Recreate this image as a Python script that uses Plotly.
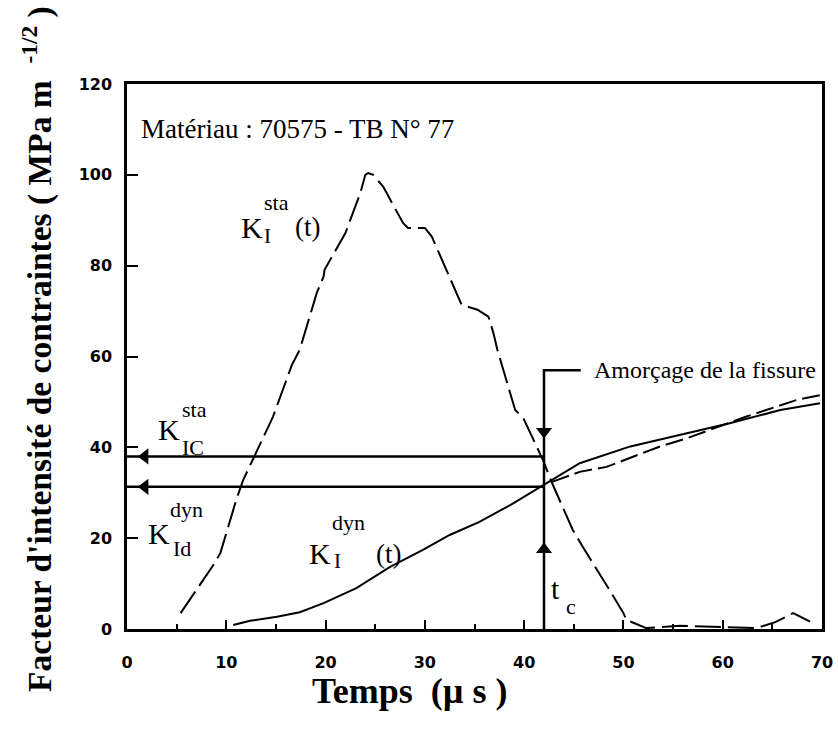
import plotly.graph_objects as go

# K_I^sta(t), dashed curve (time in µs, K in MPa m^1/2)
t_sta = [5.4, 8.7, 9.4, 11.0, 11.7, 14.1, 14.7, 16.6, 17.4, 19.1, 19.8, 19.9,
         22.0, 23.5, 24.0, 24.3, 24.8, 25.8, 27.8, 28.3, 30.0, 30.7, 33.2, 33.7,
         35.3, 36.4, 36.9, 37.3, 39.1, 39.9, 41.9, 42.8, 44.9, 45.9, 48.4, 49.3,
         50.0, 50.3, 52.3, 55.7, 59.0, 61.7, 63.4, 65.3, 67.1, 68.8]
k_sta = [3.5, 14.1, 16.7, 28.4, 32.8, 43.8, 46.7, 58.1, 61.5, 73.9, 77.6, 79.1,
         87.2, 96.0, 100.0, 100.4, 100.0, 97.4, 89.4, 88.3, 88.3, 86.4, 73.9, 71.4,
         70.3, 68.8, 65.2, 61.5, 48.2, 46.5, 37.2, 32.2, 21.8, 18.1, 9.3, 6.0,
         3.5, 2.0, 0.2, 0.7, 0.5, 0.4, 0.2, 1.5, 3.5, 1.6]

# K_I^dyn(t), solid curve
t_dyn = [10.7, 12.4, 15.1, 17.4, 19.8, 23.1, 26.5, 29.8, 32.5, 35.5, 38.6, 41.9,
         45.6, 50.7, 55.7, 60.7, 65.8, 69.8]
k_dyn = [0.9, 1.8, 2.7, 3.7, 5.7, 9.0, 13.7, 17.4, 20.7, 23.6, 27.3, 31.7,
         36.5, 40.2, 42.7, 45.3, 48.2, 49.7]

# second dyn trace (dashed) after initiation
t_dyn2 = [42.8, 45.6, 48.3, 50.7, 53.7, 56.4, 59.7, 62.4, 67.4, 69.8]
k_dyn2 = [32.4, 34.6, 35.7, 37.7, 40.2, 42.0, 44.6, 46.8, 50.4, 51.5]

# crack initiation
T_C = 42.0
KIC_STA = 38.0
KID_DYN = 31.3
K_AMORCE = 57.0
T_AMORCE_END = 45.7

x_ticks = [0, 10, 20, 30, 40, 50, 60, 70]
y_ticks = [0, 20, 40, 60, 80, 100, 120]

SERIF = "Liberation Serif"
BLACK = "black"

fig = go.Figure()

fig.add_trace(go.Scatter(x=t_sta, y=k_sta, mode="lines",
                         line=dict(color=BLACK, width=2, dash="26px,7px")))
fig.add_trace(go.Scatter(x=t_dyn, y=k_dyn, mode="lines",
                         line=dict(color=BLACK, width=2)))
fig.add_trace(go.Scatter(x=t_dyn2, y=k_dyn2, mode="lines",
                         line=dict(color=BLACK, width=2, dash="18px,6px")))

# horizontal lines back to the axis with arrowheads
for k in [KIC_STA, KID_DYN]:
    fig.add_trace(go.Scatter(x=[0, T_C], y=[k, k], mode="lines",
                             line=dict(color=BLACK, width=2.5)))
    fig.add_trace(go.Scatter(x=[1.8], y=[k], mode="markers",
                             marker=dict(symbol="triangle-left", size=14, color=BLACK)))

# vertical line at t_c with elbow to the label
fig.add_trace(go.Scatter(x=[T_C, T_C, T_AMORCE_END], y=[0, K_AMORCE, K_AMORCE], mode="lines",
                         line=dict(color=BLACK, width=2.5)))
fig.add_trace(go.Scatter(x=[T_C], y=[17.5], mode="markers",
                         marker=dict(symbol="triangle-up", size=14, color=BLACK)))
fig.add_trace(go.Scatter(x=[T_C], y=[43.5], mode="markers",
                         marker=dict(symbol="triangle-down", size=14, color=BLACK)))


def txt(x, y, s, size):
    fig.add_annotation(x=x, y=y, text=s, showarrow=False, xanchor="left", yanchor="middle",
                       font=dict(family=SERIF, size=size, color=BLACK))


txt(1.2, 110, "Matériau : 70575 - TB N° 77", 27)
# K_I^sta(t)
txt(11.3, 88.5, "K", 30)
txt(13.6, 93.8, "sta", 22)
txt(13.6, 86.6, "I", 21)
txt(16.7, 88.6, "(t)", 27)
# K_IC^sta
txt(2.9, 44.0, "K", 30)
txt(5.3, 48.3, "sta", 22)
txt(5.3, 40.0, "IC", 22)
# K_Id^dyn
txt(1.9, 21.0, "K", 30)
txt(4.1, 26.4, "dyn", 22)
txt(4.4, 17.8, "Id", 22)
# K_I^dyn (t)
txt(18.1, 16.7, "K", 30)
txt(20.4, 23.4, "dyn", 22)
txt(20.6, 15.0, "I", 21)
txt(24.9, 16.6, "(t)", 27)
# t_c
txt(42.5, 9.0, "t", 30)
txt(44.0, 5.0, "c", 22)
# Amorcage
txt(46.8, K_AMORCE, "Amorçage de la fissure", 24)

# axis titles
fig.add_annotation(x=28.5, y=-0.114, xref="x", yref="paper", text="<b>Temps  (µ s )</b>",
                   showarrow=False, xanchor="center", yanchor="middle",
                   font=dict(family=SERIF, size=36, color=BLACK))
fig.add_annotation(x=-0.128, y=0.514, xref="paper", yref="paper", textangle=-90,
                   text="<b>Facteur d'intensité de contraintes ( MPa m  <sup>-1/2</sup> )</b>",
                   showarrow=False, xanchor="center", yanchor="middle",
                   font=dict(family=SERIF, size=33.5, color=BLACK))

tickfont = dict(family="DejaVu Sans", size=16, color=BLACK, weight="bold")

fig.update_xaxes(range=[0, 70], tickvals=x_ticks, ticks="inside", ticklen=9, tickwidth=2,
                 minor=dict(dtick=5, ticks="inside", ticklen=5, tickwidth=2, tickcolor=BLACK),
                 tickcolor=BLACK, showline=True, linewidth=2.5, linecolor=BLACK, mirror=True,
                 showgrid=False, zeroline=False, tickfont=tickfont, ticklabelstandoff=17,
                 automargin=False)
fig.update_yaxes(range=[0, 120], tickvals=y_ticks, ticks="inside", ticklen=11, tickwidth=2,
                 tickcolor=BLACK, showline=True, linewidth=2.5, linecolor=BLACK, mirror=True,
                 showgrid=False, zeroline=False, tickfont=tickfont, ticklabelstandoff=9,
                 automargin=False)

fig.update_layout(width=838, height=742, showlegend=False,
                  plot_bgcolor="white", paper_bgcolor="white",
                  margin=dict(l=127, r=16, t=84, b=113))

# drop the default 8px page margin so the figure fills the window exactly
fig.write_html("out.html", config={"displayModeBar": False},
               post_script="document.body.style.margin='0';document.body.style.overflow='hidden';")
